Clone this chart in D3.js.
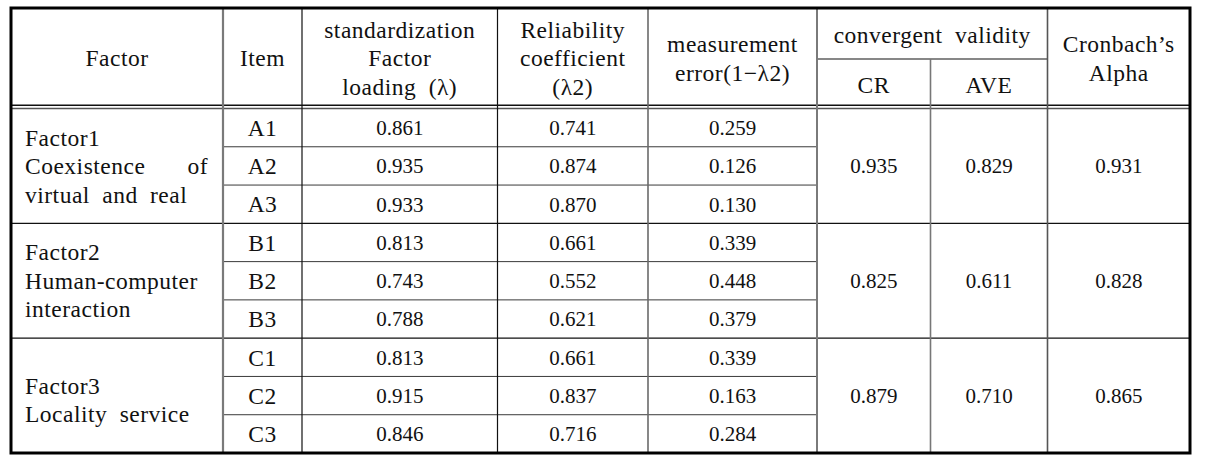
<!DOCTYPE html>
<html>
<head>
<meta charset="utf-8">
<script src="https://cdn.jsdelivr.net/npm/d3@7"></script>
<style>
  body { margin: 0; background: #fff; }
</style>
</head>
<body>
<div id="chart"></div>
<script>
// table data
const items = ["A1", "A2", "A3", "B1", "B2", "B3", "C1", "C2", "C3"];
const loadings = [0.861, 0.935, 0.933, 0.813, 0.743, 0.788, 0.813, 0.915, 0.846];
const reliability = [0.741, 0.874, 0.870, 0.661, 0.552, 0.621, 0.661, 0.837, 0.716];
const errors = [0.259, 0.126, 0.130, 0.339, 0.448, 0.379, 0.339, 0.163, 0.284];

const factorNames = ["Factor1", "Factor2", "Factor3"];
const factorDescs = ["Coexistence of virtual and real", "Human-computer interaction", "Locality service"];
const crValues = [0.935, 0.825, 0.879];
const aveValues = [0.829, 0.611, 0.710];
const alphaValues = [0.931, 0.828, 0.865];

const headers = [
    ["Factor"],
    ["Item"],
    ["standardization", "Factor", "loading (λ)"],
    ["Reliability", "coefficient", "(λ2)"],
    ["measurement", "error(1−λ2)"]
];
const groupHeader = "convergent validity";
const subHeaders = ["CR", "AVE"];
const alphaHeader = ["Cronbach’s", "Alpha"];

const width = 1212;
const height = 455;
const fontFamily = "'Liberation Serif', 'DejaVu Serif', serif";

const svg = d3.select("#chart")
    .append("svg")
    .attr("width", width)
    .attr("height", height)
    .attr("font-family", fontFamily);

// column edges (layout)
const colEdges = [11, 223, 302, 497.5, 648, 817, 930.5, 1047.5, 1190];
const tableTop = 8, headBottom = 108.5, tableBottom = 453, subLineY = 59;
const lineGap = 28.5;
const fmt = d3.format(".3f");

const y = d3.scaleBand().domain(items).range([headBottom, tableBottom]);
const groups = d3.range(factorNames.length).map(g => items.slice(g * 3, g * 3 + 3));
const groupTop = g => y(groups[g][0]);
const groupBottom = g => y(groups[g][groups[g].length - 1]) + y.bandwidth();
const colMid = i => (colEdges[i] + colEdges[i + 1]) / 2;

const textLayer = svg.append("g").attr("fill", "#111");
const lineLayer = svg.append("g");

const letterSize = 23.5, numberSize = 21, letterSpacing = 0.5, wordSpacing = 6;

function centeredLines(x, yc, lines) {
    lines.forEach((t, k) => {
        textLayer.append("text")
            .attr("x", x)
            .attr("y", yc + (k - (lines.length - 1) / 2) * lineGap)
            .attr("dy", "0.35em")
            .attr("text-anchor", "middle")
            .attr("font-size", letterSize)
            .attr("letter-spacing", letterSpacing)
            .attr("word-spacing", wordSpacing)
            .text(t);
    });
}

// header
const headMid = (tableTop + headBottom) / 2;
headers.forEach((h, i) => centeredLines(colMid(i), headMid, h));
centeredLines((colEdges[5] + colEdges[7]) / 2, (tableTop + subLineY) / 2 + 1, [groupHeader]);
subHeaders.forEach((h, i) => centeredLines(colMid(5 + i), (subLineY + headBottom) / 2 + 1, [h]));
centeredLines(colMid(7), headMid, alphaHeader);

// item rows
const rowCols = [items, loadings, reliability, errors];
items.forEach((it, r) => {
    const yc = y(it) + y.bandwidth() / 2;
    rowCols.forEach((col, c) => {
        const v = col[r];
        const isNum = typeof v === "number";
        textLayer.append("text")
            .attr("x", colMid(c + 1))
            .attr("y", yc)
            .attr("dy", "0.35em")
            .attr("text-anchor", "middle")
            .attr("font-size", isNum ? numberSize : letterSize)
            .attr("letter-spacing", isNum ? 0 : letterSpacing)
            .text(isNum ? fmt(v) : v);
    });
});

// merged group cells
[crValues, aveValues, alphaValues].forEach((vals, c) => {
    vals.forEach((v, g) => {
        textLayer.append("text")
            .attr("x", colMid(5 + c))
            .attr("y", (groupTop(g) + groupBottom(g)) / 2)
            .attr("dy", "0.35em")
            .attr("text-anchor", "middle")
            .attr("font-size", numberSize)
            .text(fmt(v));
    });
});

// factor labels, wrapped and justified in the first column
const padL = 25, padR = 208;
const boxW = padR - padL;

function measure(str) {
    const t = textLayer.append("text")
        .attr("font-size", letterSize)
        .attr("letter-spacing", letterSpacing)
        .attr("word-spacing", wordSpacing)
        .text(str);
    const w = t.node().getComputedTextLength();
    t.remove();
    return w;
}

factorNames.forEach((name, g) => {
    const words = factorDescs[g].split(" ");
    const wrapped = [];
    let cur = [];
    words.forEach(w => {
        const test = cur.concat([w]).join(" ");
        if (cur.length && measure(test) > boxW) {
            wrapped.push(cur);
            cur = [w];
        } else {
            cur.push(w);
        }
    });
    if (cur.length) wrapped.push(cur);

    const lines = [{ words: [name], justify: false }]
        .concat(wrapped.map((ws, k) => ({ words: ws, justify: k < wrapped.length - 1 })));

    const mid = (groupTop(g) + groupBottom(g)) / 2 + (lines.length === 2 ? 4 : 0);
    lines.forEach((ln, k) => {
        const yy = mid + (k - (lines.length - 1) / 2) * lineGap;
        if (ln.justify && ln.words.length > 1) {
            const widths = ln.words.map(measure);
            const gap = (boxW - d3.sum(widths)) / (ln.words.length - 1);
            let xx = padL;
            ln.words.forEach((w, j) => {
                textLayer.append("text")
                    .attr("x", xx)
                    .attr("y", yy)
                    .attr("dy", "0.35em")
                    .attr("font-size", letterSize)
                    .attr("letter-spacing", letterSpacing)
                    .text(w);
                xx += widths[j] + gap;
            });
        } else {
            textLayer.append("text")
                .attr("x", padL)
                .attr("y", yy)
                .attr("dy", "0.35em")
                .attr("font-size", letterSize)
                .attr("letter-spacing", letterSpacing)
                .attr("word-spacing", wordSpacing)
                .text(ln.words.join(" "));
        }
    });
});

// grid lines
function hline(x1, x2, yy, color, w) {
    lineLayer.append("line")
        .attr("x1", x1).attr("x2", x2).attr("y1", yy).attr("y2", yy)
        .attr("stroke", color).attr("stroke-width", w);
}
function vline(xx, y1, y2, color, w) {
    lineLayer.append("line")
        .attr("x1", xx).attr("x2", xx).attr("y1", y1).attr("y2", y2)
        .attr("stroke", color).attr("stroke-width", w);
}

// row separators inside groups (item..error columns)
items.forEach((it, r) => {
    if (r % 3 !== 0) hline(colEdges[1], colEdges[5], y(it), "#3a3a3a", 1);
});
// group separators
groups.slice(1).forEach((gr) => hline(colEdges[0], colEdges[8], y(gr[0]), "#111", 1.2));

// header double rule
hline(colEdges[0], colEdges[8], headBottom - 3.3, "#111", 1.6);
hline(colEdges[0], colEdges[8], headBottom, "#555", 1.4);
// subheader rule
hline(colEdges[5], colEdges[7], subLineY, "#111", 1.2);

// column separators
const vStyles = [
    null,
    { c: "#7a7a7a", w: 2.2 },
    { c: "#111", w: 1.2 },
    { c: "#111", w: 1.2 },
    { c: "#6a6a6a", w: 1.6 },
    { c: "#7a7a7a", w: 2 },
    { c: "#777", w: 1.6 },
    { c: "#555", w: 1.6 }
];
colEdges.slice(1, -1).forEach((xx, i) => {
    const s = vStyles[i + 1];
    vline(xx, i + 1 === 6 ? subLineY : tableTop, tableBottom, s.c, s.w);
});

// outer frame
lineLayer.append("rect")
    .attr("x", colEdges[0])
    .attr("y", tableTop)
    .attr("width", colEdges[8] - colEdges[0])
    .attr("height", tableBottom - tableTop)
    .attr("fill", "none")
    .attr("stroke", "#000")
    .attr("stroke-width", 3);
</script>
</body>
</html>
